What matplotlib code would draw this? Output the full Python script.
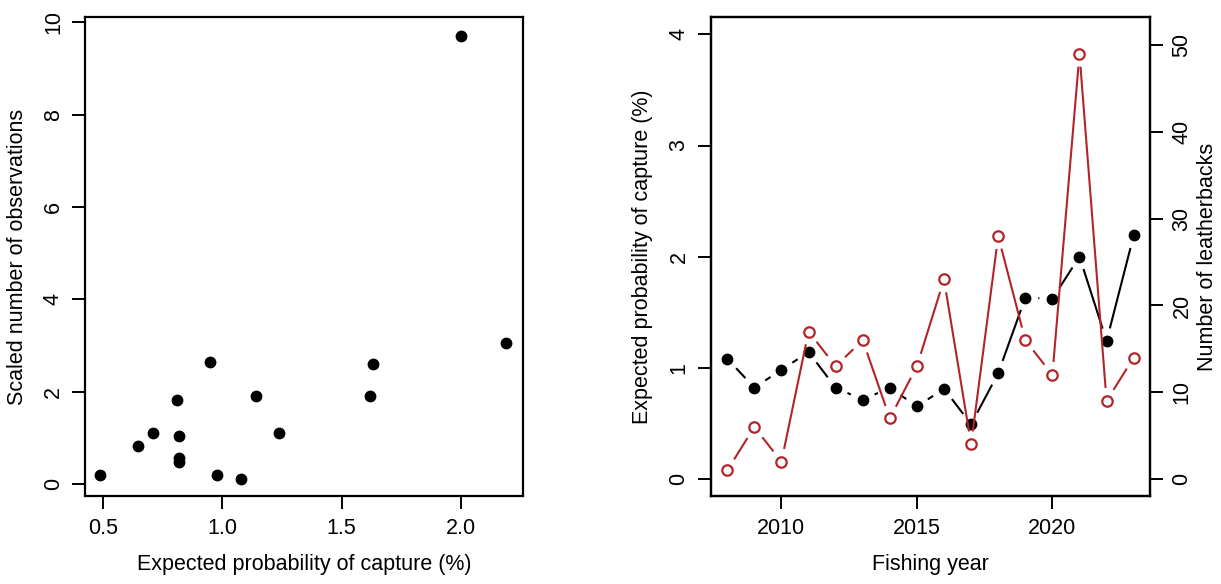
import numpy as np
import matplotlib
matplotlib.use("Agg")
import matplotlib.pyplot as plt

plt.rcParams["font.family"] = ["Liberation Sans", "DejaVu Sans"]
plt.rcParams["font.size"] = 15.5

# fishing years and per-year values
years = np.arange(2008, 2024)
prob_capture = [1.08, 0.82, 0.98, 1.14, 0.82, 0.71, 0.82, 0.65,
                0.81, 0.49, 0.95, 1.63, 1.62, 2.00, 1.24, 2.19]
n_leatherbacks = [1, 6, 2, 17, 13, 16, 7, 13, 23, 4, 28, 16, 12, 49, 9, 14]
scaled_obs = [0.11, 0.47, 0.19, 1.91, 1.04, 1.11, 0.56, 0.83,
              1.83, 0.19, 2.65, 2.59, 1.91, 9.71, 1.10, 3.05]

RED = "#b3242a"


def style_axis(ax):
    for s in ax.spines.values():
        s.set_linewidth(1.6)
    ax.tick_params(length=9.5, width=1.4, pad=6)


def plot_type_b(ax, x, y, gap, **kw):
    # line segments between points, cut back by `gap` pixels at each end
    pts = ax.transData.transform(np.column_stack([x, y]))
    inv = ax.transData.inverted()
    for a, b in zip(pts[:-1], pts[1:]):
        d = np.hypot(*(b - a))
        if d <= 2 * gap:
            continue
        u = (b - a) / d
        seg = inv.transform(np.array([a + u * gap, b - u * gap]))
        ax.plot(seg[:, 0], seg[:, 1], solid_capstyle="butt", **kw)


fig = plt.figure(figsize=(12.21, 5.84), dpi=100)

# left: scaled observations vs expected probability
ax1 = fig.add_axes([0.0700, 0.1507, 0.3586, 0.8197])
ax1.plot(prob_capture, scaled_obs, "o", color="black", ms=8.5, mew=0)
ax1.set_xlim(0.428, 2.261)
ax1.set_ylim(-0.26, 10.11)
ax1.set_xticks([0.5, 1.0, 1.5, 2.0])
ax1.set_xticklabels(["0.5", "1.0", "1.5", "2.0"])
ax1.set_yticks([0, 2, 4, 6, 8, 10])
ax1.set_xlabel("Expected probability of capture (%)", labelpad=11)
ax1.set_ylabel("Scaled number of observations", labelpad=11)
style_axis(ax1)
for t in ax1.get_yticklabels():
    t.set_rotation(90)
    t.set_va("center")

# right: probability and leatherback counts by year
ax2 = fig.add_axes([0.5823, 0.1507, 0.3595, 0.8197])
ax2.set_xlim(2007.4, 2023.6)
ax2.set_ylim(-0.156, 4.155)
ax3 = ax2.twinx()
ax3.set_ylim(-1.95, 53.2)

plot_type_b(ax2, years, prob_capture, 13, color="black", lw=1.5)
ax2.plot(years, prob_capture, "o", color="black", ms=8.5, mew=0)
plot_type_b(ax3, years, n_leatherbacks, 13, color=RED, lw=1.5)
ax3.plot(years, n_leatherbacks, "o", mfc="none", mec=RED, ms=7.5, mew=1.6)

ax2.set_xticks([2010, 2015, 2020])
ax2.set_yticks([0, 1, 2, 3, 4])
ax3.set_yticks([0, 10, 20, 30, 40, 50])
ax2.set_xlabel("Fishing year", labelpad=11)
ax2.set_ylabel("Expected probability of capture (%)", labelpad=11)
ax3.set_ylabel("Number of leatherbacks", labelpad=3)
style_axis(ax2)
style_axis(ax3)
for t in ax2.get_yticklabels() + ax3.get_yticklabels():
    t.set_rotation(90)
    t.set_va("center")

fig.savefig("out.png", dpi=100)
